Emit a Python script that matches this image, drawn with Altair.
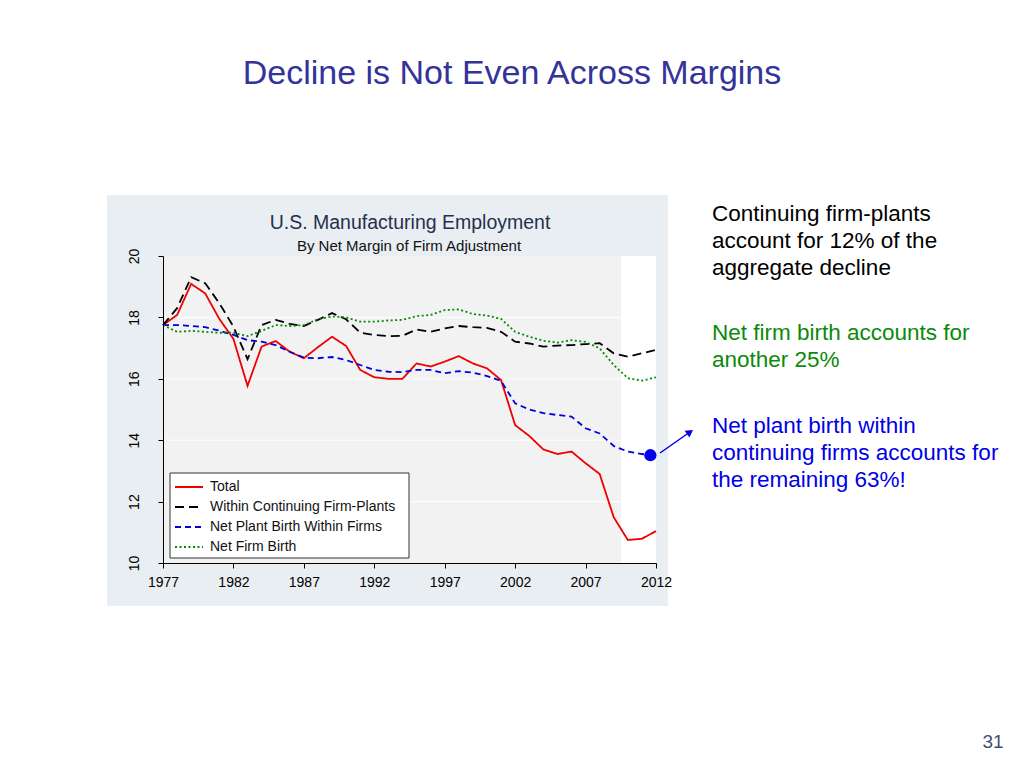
import altair as alt
import pandas as pd

# ---------------- data ----------------
years = list(range(1977, 2013))
total = [17.75, 18.08, 19.09, 18.78, 17.95, 17.30, 15.77, 17.05, 17.23, 16.88,
         16.67, 17.03, 17.37, 17.07, 16.29, 16.05, 16.00, 16.00, 16.50, 16.40,
         16.56, 16.74, 16.50, 16.34, 15.96, 14.49, 14.14, 13.70, 13.55, 13.63,
         13.25, 12.90, 11.49, 10.75, 10.79, 11.04]
within = [17.75, 18.30, 19.31, 19.11, 18.46, 17.70, 16.64, 17.75, 17.92, 17.79,
          17.72, 17.92, 18.14, 17.94, 17.50, 17.43, 17.39, 17.40, 17.61, 17.53,
          17.64, 17.72, 17.68, 17.66, 17.53, 17.21, 17.15, 17.05, 17.08, 17.10,
          17.13, 17.16, 16.83, 16.72, 16.83, 16.94]
plant = [17.75, 17.75, 17.72, 17.68, 17.57, 17.43, 17.26, 17.21, 17.10, 16.88,
         16.69, 16.67, 16.71, 16.61, 16.45, 16.29, 16.23, 16.22, 16.29, 16.29,
         16.18, 16.25, 16.20, 16.09, 15.93, 15.20, 15.00, 14.88, 14.82, 14.77,
         14.39, 14.22, 13.81, 13.63, 13.55, 13.50]
firm = [17.75, 17.53, 17.56, 17.53, 17.50, 17.50, 17.39, 17.56, 17.75, 17.72,
        17.75, 17.94, 18.03, 18.00, 17.86, 17.86, 17.90, 17.92, 18.04, 18.08,
        18.24, 18.26, 18.11, 18.06, 17.95, 17.53, 17.37, 17.24, 17.18, 17.26,
        17.20, 16.99, 16.45, 16.02, 15.94, 16.05]

series_names = ["Total", "Within Continuing Firm-Plants",
                "Net Plant Birth Within Firms", "Net Firm Birth"]
series_values = [total, within, plant, firm]
series_colors = ["#ee0000", "#000000", "#0000dd", "#008b00"]
series_dashes = [[1, 0], [9, 5], [6, 4], [2, 2.5]]

x_ticks = [1977, 1982, 1987, 1992, 1997, 2002, 2007, 2012]
y_ticks = [10, 12, 14, 16, 18, 20]
grid_values = [12, 14, 16, 18]

marker_year = [2011.6]
marker_value = [13.51]

page_title = "Decline is Not Even Across Margins"
chart_title = "U.S. Manufacturing Employment"
chart_subtitle = "By Net Margin of Firm Adjustment"
note_black = "Continuing firm-plants\naccount for 12% of the\naggregate decline"
note_green = "Net firm birth accounts for\nanother 25%"
note_blue = "Net plant birth within\ncontinuing firms accounts for\nthe remaining 63%!"
page_number = "31"

FONT = "Liberation Sans"

# ---------------- tables ----------------
rows = []
for name, vals in zip(series_names, series_values):
    for yr, v in zip(years, vals):
        rows.append({"year": yr, "value": v, "series": name})
df = pd.DataFrame(rows)
df_marker = pd.DataFrame({"year": marker_year, "value": marker_value})
df_grid = pd.DataFrame({"g": grid_values})
one = pd.DataFrame({"k": [0]})

x_enc = alt.X("year:Q",
              scale=alt.Scale(domain=[1977, 2012], nice=False, zero=False),
              axis=alt.Axis(values=x_ticks, format="d", title=None, grid=False,
                            domainColor="black", tickColor="black", tickSize=5,
                            labelColor="black", labelFont=FONT, labelFontSize=14,
                            labelFlush=False, labelPadding=7, zindex=1))
y_enc = alt.Y("value:Q",
              scale=alt.Scale(domain=[10, 20], nice=False, zero=False),
              axis=alt.Axis(values=y_ticks, title=None, grid=False,
                            domainColor="black", tickColor="black", tickSize=5,
                            labelColor="black", labelFont=FONT, labelFontSize=14,
                            labelAngle=270, labelAlign="center", labelFlush=False,
                            labelBaseline="bottom", labelPadding=17, zindex=1))


def rect(x, x2, y, y2, **kw):
    return alt.Chart(one).mark_rect(**kw).encode(
        x=alt.value(x), x2=alt.value(x2), y=alt.value(y), y2=alt.value(y2))


def text(s, x, y, **kw):
    return alt.Chart(one).mark_text(font=FONT, lineBreak="\n", **kw).encode(
        x=alt.value(x), y=alt.value(y), text=alt.value(s))


panel = rect(-56, 505, -61, 350, color="#e9eef2")
plot_bg = rect(0, 458, 0, 307, color="#f2f2f2")
plot_white = rect(458, 493, 0, 307, color="#ffffff")

grid = alt.Chart(df_grid).mark_rule(color="white", strokeWidth=1).encode(
    y=alt.Y("g:Q", scale=alt.Scale(domain=[10, 20], nice=False, zero=False)),
    x=alt.value(0), x2=alt.value(493))

lines = alt.Chart(df).mark_line(strokeWidth=1.8).encode(
    x=x_enc, y=y_enc,
    color=alt.Color("series:N", legend=None,
                    scale=alt.Scale(domain=series_names, range=series_colors)),
    strokeDash=alt.StrokeDash("series:N", legend=None,
                              scale=alt.Scale(domain=series_names, range=series_dashes)),
)

marker = alt.Chart(df_marker).mark_circle(size=150, color="#0000ee", opacity=1).encode(
    x="year:Q", y="value:Q")

# legend (manual)
legend_layers = [rect(7, 246, 217, 302, fill="white", stroke="#333333", strokeWidth=1)]
for i, (name, col, dash) in enumerate(zip(series_names, series_colors, series_dashes)):
    yy = 231 + i * 20
    legend_layers.append(
        alt.Chart(one).mark_rule(color=col, strokeDash=dash, strokeWidth=1.8).encode(
            x=alt.value(12), x2=alt.value(40), y=alt.value(yy)))
    legend_layers.append(text(name, 47, yy, align="left", baseline="middle",
                              fontSize=14, color="#111111"))

titles = [
    text(page_title, 349, -182, align="center", fontSize=34, color="#333399"),
    text(chart_title, 247, -33, align="center", fontSize=19.5, color="#25304d"),
    text(chart_subtitle, 246, -10, align="center", fontSize=15, color="#111111"),
    text(note_black, 549, -42, align="left", fontSize=22.5, lineHeight=27, color="#000000"),
    text(note_green, 549, 77, align="left", fontSize=22.5, lineHeight=27, color="#0a8a0a"),
    text(note_blue, 549, 170, align="left", fontSize=22.5, lineHeight=27, color="#0000e6"),
    text(page_number, 830, 486, align="center", fontSize=19, color="#3d4f7a"),
]

arrow_line = alt.Chart(one).mark_rule(color="#0000e6", strokeWidth=1.5).encode(
    x=alt.value(497), y=alt.value(197), x2=alt.value(527), y2=alt.value(176))
arrow_head = alt.Chart(one).mark_point(shape="triangle-up", filled=True, opacity=1,
                                       color="#0000e6", angle=55, size=70).encode(
    x=alt.value(527), y=alt.value(176))

chart = alt.layer(
    panel, plot_bg, plot_white, grid, lines, marker,
    *legend_layers, *titles, arrow_line, arrow_head
).properties(
    width=493, height=307,
    autosize=alt.AutoSizeParams(type="none"),
    padding={"left": 155, "top": 248, "right": 352, "bottom": 195},
    background="white",
).configure_view(strokeWidth=0)

chart.save("out.html", embed_options={"renderer": "svg", "actions": False})
